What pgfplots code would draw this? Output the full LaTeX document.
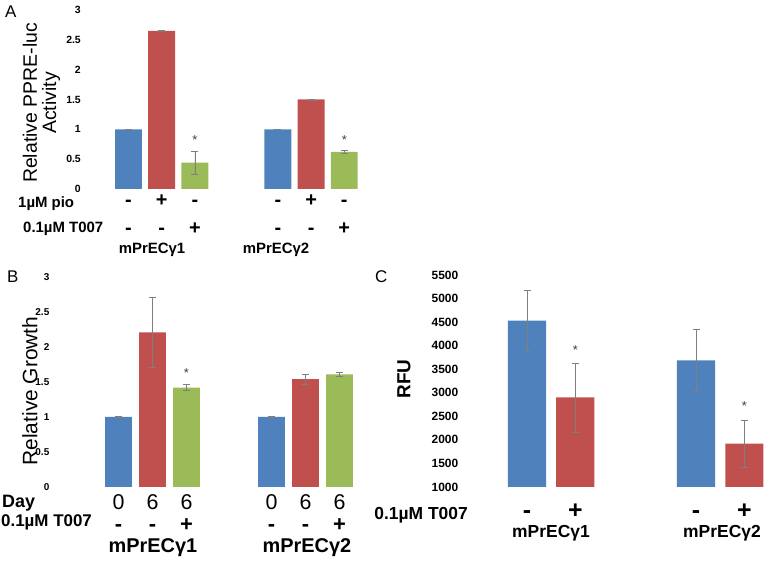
\documentclass[border=0pt]{standalone}
\usepackage{pgfplots}
\pgfplotsset{compat=1.18}
\usepackage{fontspec}
\setmainfont{Liberation Sans}
\definecolor{cblue}{HTML}{4F81BD}
\definecolor{cred}{HTML}{C0504D}
\definecolor{cgreen}{HTML}{9BBB59}
\definecolor{ebar}{HTML}{7F7F7F}
\newcommand\fs[1]{\fontsize{#1}{#1}\selectfont}
\pgfplotsset{
  panel/.style={
    scale only axis, ybar,
    axis line style={draw=none}, major tick length=0pt, tick style={draw=none},
    /pgf/number format/assume math mode=true,
    /pgf/number format/1000 sep={},
    scaled y ticks=false,
    xtick=\empty,
    yticklabel style={font=\bfseries\fs{10}, inner sep=1bp, anchor=east},
  },
  eb/.style={error bars/.cd, y dir=both, y explicit,
    error bar style={ebar, line width=0.6pt},
    error mark options={ebar, rotate=90, mark size=3.5bp, line width=0.6pt}},
}
\begin{document}
\begin{tikzpicture}[x=1bp,y=1bp]
\path[use as bounding box] (0,0) rectangle (775,568);
% ---------------- Panel A ----------------
\begin{axis}[panel, at={(82bp,379bp)}, anchor=south west,
  width=285.5bp, height=179bp, xmin=-1.4, xmax=7.2, ymin=0, ymax=3,
  ytick={0,0.5,...,3}, bar width=0.81, clip=false,
  yticklabel style={font=\bfseries\fs{10.5}}]
\addplot[fill=cblue, draw=none, bar shift=0pt, eb] coordinates {(0,1) +- (0,0.005) (4.5,1) +- (0,0.005)};
\addplot[fill=cred, draw=none, bar shift=0pt, eb] coordinates {(1,2.65) +- (0,0.005) (5.5,1.5) +- (0,0.01)};
\addplot[fill=cgreen, draw=none, bar shift=0pt, eb] coordinates {(2,0.44) +- (0,0.19) (6.5,0.62) +- (0,0.03)};
\node[font=\fs{13}, text=darkgray] at (axis cs:2,0.82) {*};
\node[font=\fs{13}, text=darkgray] at (axis cs:6.5,0.82) {*};
\end{axis}
\node[anchor=base west, font=\fs{17}, inner sep=0] at (5,550) {A};
\node[rotate=90, align=center, font=\fs{19.5}] at (41.5,465) {Relative PPRE-luc\\Activity};
\begin{scope}[every node/.style={anchor=base, inner sep=0, font=\bfseries\fs{20}}]
\node at (128.5,361.4) {-}; \node at (161.7,361.4) {+}; \node at (194.9,361.4) {-};
\node at (277.9,361.4) {-}; \node at (311.1,361.4) {+}; \node at (344.3,361.4) {-};
\node at (128.5,333.4) {-}; \node at (161.7,333.4) {-}; \node at (194.9,333.4) {+};
\node at (277.9,333.4) {-}; \node at (311.1,333.4) {-}; \node at (344.3,333.4) {+};
\end{scope}
\node[anchor=base west, inner sep=0, font=\bfseries\fs{15}] at (18,360) {1µM pio};
\node[anchor=base west, inner sep=0, font=\bfseries\fs{15}] at (23,335) {0.1µM T007};
\node[anchor=base, inner sep=0, font=\bfseries\fs{15}] at (152,314) {mPrECγ1};
\node[anchor=base, inner sep=0, font=\bfseries\fs{15}] at (276,314) {mPrECγ2};
% ---------------- Panel B ----------------
\begin{axis}[panel, at={(50.5bp,81bp)}, anchor=south west,
  width=319.6bp, height=210bp, xmin=-2, xmax=7.4, ymin=0, ymax=3,
  ytick={0,0.5,...,3}, bar width=0.79, clip=false,
  yticklabel style={font=\bfseries\fs{10}}]
\addplot[fill=cblue, draw=none, bar shift=0pt, eb] coordinates {(0,1) +- (0,0.005) (4.5,1) +- (0,0.005)};
\addplot[fill=cred, draw=none, bar shift=0pt, eb] coordinates {(1,2.21) +- (0,0.5) (5.5,1.54) +- (0,0.07)};
\addplot[fill=cgreen, draw=none, bar shift=0pt, eb] coordinates {(2,1.42) +- (0,0.04) (6.5,1.61) +- (0,0.03)};
\node[font=\fs{13}, text=darkgray] at (axis cs:2,1.63) {*};
\end{axis}
\node[anchor=base west, font=\fs{17}, inner sep=0] at (7,285) {B};
\node[rotate=90, font=\fs{21}] at (30,177) {Relative Growth};
\begin{scope}[every node/.style={anchor=base, inner sep=0, font=\fs{21.5}}]
\node at (118.5,58) {0}; \node at (152.5,58) {6}; \node at (186.5,58) {6};
\node at (271.5,58) {0}; \node at (305.5,58) {6}; \node at (339.5,58) {6};
\end{scope}
\begin{scope}[every node/.style={anchor=base, inner sep=0, font=\bfseries\fs{22}}]
\node at (118.5,36.5) {-}; \node at (152.5,36.5) {-}; \node at (186.5,36.5) {+};
\node at (271.5,36.5) {-}; \node at (305.5,36.5) {-}; \node at (339.5,36.5) {+};
\end{scope}
\node[anchor=base west, inner sep=0, font=\bfseries\fs{18}] at (2,60) {Day};
\node[anchor=base west, inner sep=0, font=\bfseries\fs{17}] at (1,41) {0.1µM T007};
\node[anchor=base, inner sep=0, font=\bfseries\fs{20}] at (153,15) {mPrECγ1};
\node[anchor=base, inner sep=0, font=\bfseries\fs{20}] at (307,15) {mPrECγ2};
% ---------------- Panel C ----------------
\begin{axis}[panel, at={(459.4bp,81bp)}, anchor=south west,
  width=309.1bp, height=212bp, xmin=-1.4, xmax=5, ymin=1000, ymax=5500,
  ytick={1000,1500,...,5500}, bar width=0.79,
  yticklabel style={font=\bfseries\fs{12}}]
\addplot[fill=cblue, draw=none, bar shift=0pt, eb] coordinates {(0,4529) +- (0,640) (3.5,3690) +- (0,650)};
\addplot[fill=cred, draw=none, bar shift=0pt, eb] coordinates {(1,2900) +- (0,730) (4.5,1920) +- (0,500)};
\node[font=\fs{13}, text=darkgray] at (axis cs:1,3908) {*};
\node[font=\fs{13}, text=darkgray] at (axis cs:4.5,2720) {*};
\end{axis}
\node[anchor=base west, font=\fs{17}, inner sep=0] at (375,285) {C};
\node[rotate=90, font=\bfseries\fs{19}] at (404,189) {RFU};
\begin{scope}[every node/.style={anchor=base, inner sep=0, font=\bfseries\fs{25}}]
\node at (527,49.5) {-}; \node at (575.3,49.5) {+};
\node at (696,49.5) {-}; \node at (744.3,49.5) {+};
\end{scope}
\node[anchor=base east, inner sep=0, font=\bfseries\fs{17.5}] at (468,48) {0.1µM T007};
\node[anchor=base, inner sep=0, font=\bfseries\fs{17.5}] at (551,30) {mPrECγ1};
\node[anchor=base, inner sep=0, font=\bfseries\fs{17.5}] at (722,30) {mPrECγ2};
\end{tikzpicture}
\end{document}
